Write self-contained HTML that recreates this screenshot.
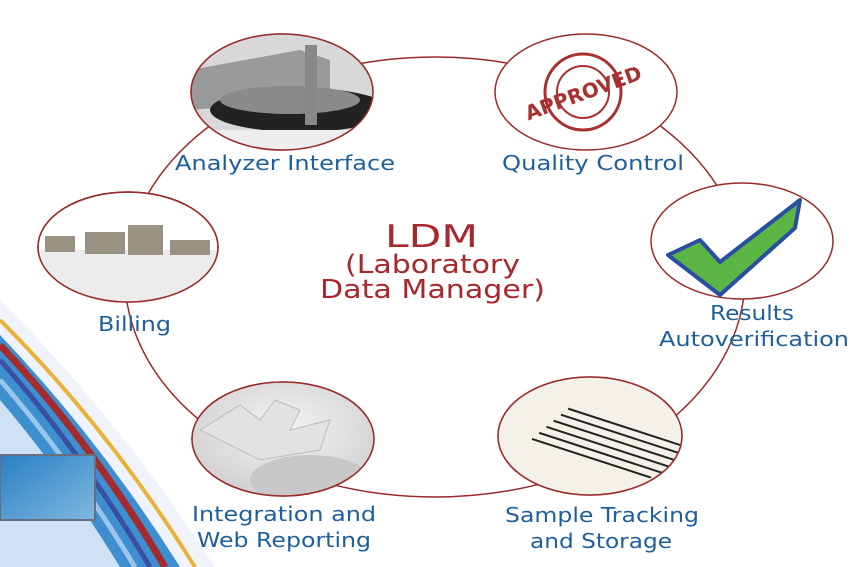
<!DOCTYPE html>
<html><head><meta charset="utf-8"><style>
html,body{margin:0;padding:0;background:#fff;width:850px;height:567px;overflow:hidden}
svg text{font-family:"DejaVu Sans","Liberation Sans",sans-serif}
</style></head><body>
<svg width="850" height="567" viewBox="0 0 850 567" xmlns="http://www.w3.org/2000/svg">
<defs>
<linearGradient id="bl" x1="0" y1="0" x2="1" y2="1"><stop offset="0" stop-color="#2a7fc4"/><stop offset="1" stop-color="#7fb8e0"/></linearGradient>
<radialGradient id="gr" cx="0.5" cy="0.4" r="0.6"><stop offset="0" stop-color="#f4f4f4"/><stop offset="1" stop-color="#cfcfcf"/></radialGradient>
<clipPath id="c1"><ellipse cx="282" cy="92" rx="91" ry="58"/></clipPath>
<clipPath id="c3"><ellipse cx="128" cy="247" rx="90" ry="55"/></clipPath>
<clipPath id="c5"><ellipse cx="283" cy="439" rx="91" ry="57"/></clipPath>
<clipPath id="c6"><ellipse cx="590" cy="436" rx="92" ry="59"/></clipPath>
</defs>
<path d="M0,300 Q120,420 215,567 L0,567Z" fill="#f0f4fa"/>
<path d="M0,320 Q110,430 195,567" stroke="#e8b33a" stroke-width="4" fill="none"/>
<path d="M0,335 Q100,440 180,567 L0,567Z" fill="#3d8fd0"/>
<path d="M0,345 Q90,440 165,567" stroke="#a42b2e" stroke-width="7" fill="none"/>
<path d="M0,360 Q80,450 150,567" stroke="#3a4fa0" stroke-width="5" fill="none"/>
<path d="M0,380 Q70,460 135,567" stroke="#9bc5ea" stroke-width="5" fill="none"/>
<path d="M0,400 Q60,470 120,567 L0,567Z" fill="#cfe2f3"/>
<rect x="0" y="455" width="95" height="65" fill="url(#bl)" stroke="#6a6f80" stroke-width="2"/>
<ellipse cx="435" cy="277" rx="310" ry="220" fill="none" stroke="#9a2a2a" stroke-width="1.5"/>
<g stroke="#9a2a2a" stroke-width="1.5">
<ellipse cx="282" cy="92" rx="91" ry="58" fill="#fff"/>
<ellipse cx="586" cy="92" rx="91" ry="58" fill="#fff"/>
<ellipse cx="128" cy="247" rx="90" ry="55" fill="#fff"/>
<ellipse cx="742" cy="241" rx="91" ry="58" fill="#fff"/>
<ellipse cx="283" cy="439" rx="91" ry="57" fill="#fff"/>
<ellipse cx="590" cy="436" rx="92" ry="59" fill="#fff"/>
</g>
<g clip-path="url(#c1)">
<rect x="190" y="33" width="185" height="120" fill="#d8d8d8"/>
<path d="M190,70 L300,50 L330,60 L330,100 L190,110Z" fill="#9a9a9a"/>
<ellipse cx="300" cy="110" rx="90" ry="22" fill="#222"/>
<ellipse cx="290" cy="100" rx="70" ry="14" fill="#8a8a8a"/>
<rect x="190" y="130" width="185" height="25" fill="#eee"/>
<rect x="305" y="45" width="12" height="80" fill="#888"/>
</g>
<ellipse cx="282" cy="92" rx="91" ry="58" fill="none" stroke="#9a2a2a" stroke-width="1.5"/>
<g fill="none" stroke="#a83030" stroke-width="3">
<circle cx="583" cy="92" r="38"/><circle cx="583" cy="92" r="26" stroke-width="2"/>
</g>
<text x="583" y="100" text-anchor="middle" font-size="20" font-weight="bold" fill="#a83030" transform="rotate(-20 583 92)">APPROVED</text>
<g clip-path="url(#c3)">
<rect x="38" y="250" width="180" height="55" fill="#ececec"/>
<g fill="#9a9282"><rect x="45" y="236" width="30" height="16"/><rect x="85" y="232" width="40" height="22"/><rect x="128" y="225" width="35" height="30"/><rect x="170" y="240" width="40" height="15"/></g>
</g>
<ellipse cx="128" cy="247" rx="90" ry="55" fill="none" stroke="#9a2a2a" stroke-width="1.5"/>
<path d="M668,255 L700,240 L720,262 L800,200 L795,228 L720,295Z" fill="#5bb646" stroke="#2a4fa0" stroke-width="4" stroke-linejoin="round"/>
<g clip-path="url(#c5)">
<rect x="190" y="380" width="190" height="120" fill="url(#gr)"/>
<path d="M200,430 L240,405 L260,420 L275,400 L300,410 L290,430 L330,420 L320,450 L260,460Z" fill="#e2e2e2" stroke="#bbb"/>
<ellipse cx="310" cy="480" rx="60" ry="25" fill="#c8c8c8"/>
</g>
<ellipse cx="283" cy="439" rx="91" ry="57" fill="none" stroke="#9a2a2a" stroke-width="1.5"/>
<g clip-path="url(#c6)">
<rect x="495" y="375" width="190" height="125" fill="#f4f1e8"/>
<g stroke="#222" stroke-width="2" transform="rotate(18 600 440)">
<line x1="560" y1="420" x2="680" y2="420"/><line x1="555" y1="428" x2="680" y2="428"/><line x1="550" y1="436" x2="680" y2="436"/><line x1="545" y1="444" x2="680" y2="444"/><line x1="540" y1="452" x2="670" y2="452"/><line x1="535" y1="460" x2="660" y2="460"/>
</g>
</g>
<ellipse cx="590" cy="436" rx="92" ry="59" fill="none" stroke="#9a2a2a" stroke-width="1.5"/>
<g fill="#1f5f9a" font-size="20" lengthAdjust="spacingAndGlyphs">
<text x="175" y="170" textLength="220" lengthAdjust="spacingAndGlyphs">Analyzer Interface</text>
<text x="502" y="170" textLength="182" lengthAdjust="spacingAndGlyphs">Quality Control</text>
<text x="98" y="331" textLength="73" lengthAdjust="spacingAndGlyphs">Billing</text>
<text x="710" y="320" textLength="84" lengthAdjust="spacingAndGlyphs">Results</text>
<text x="659" y="346" textLength="190" lengthAdjust="spacingAndGlyphs">Autoverification</text>
<text x="192" y="521" textLength="184" lengthAdjust="spacingAndGlyphs">Integration and</text>
<text x="197" y="547" textLength="174" lengthAdjust="spacingAndGlyphs">Web Reporting</text>
<text x="505" y="522" textLength="194" lengthAdjust="spacingAndGlyphs">Sample Tracking</text>
<text x="530" y="548" textLength="142" lengthAdjust="spacingAndGlyphs">and Storage</text>
</g>
<g fill="#a8282c">
<text x="385" y="247" font-size="31" textLength="93" lengthAdjust="spacingAndGlyphs">LDM</text>
<text x="345" y="273" font-size="26" textLength="175" lengthAdjust="spacingAndGlyphs">(Laboratory</text>
<text x="320" y="298" font-size="26" textLength="225" lengthAdjust="spacingAndGlyphs">Data Manager)</text>
</g>
</svg>
</body></html>
